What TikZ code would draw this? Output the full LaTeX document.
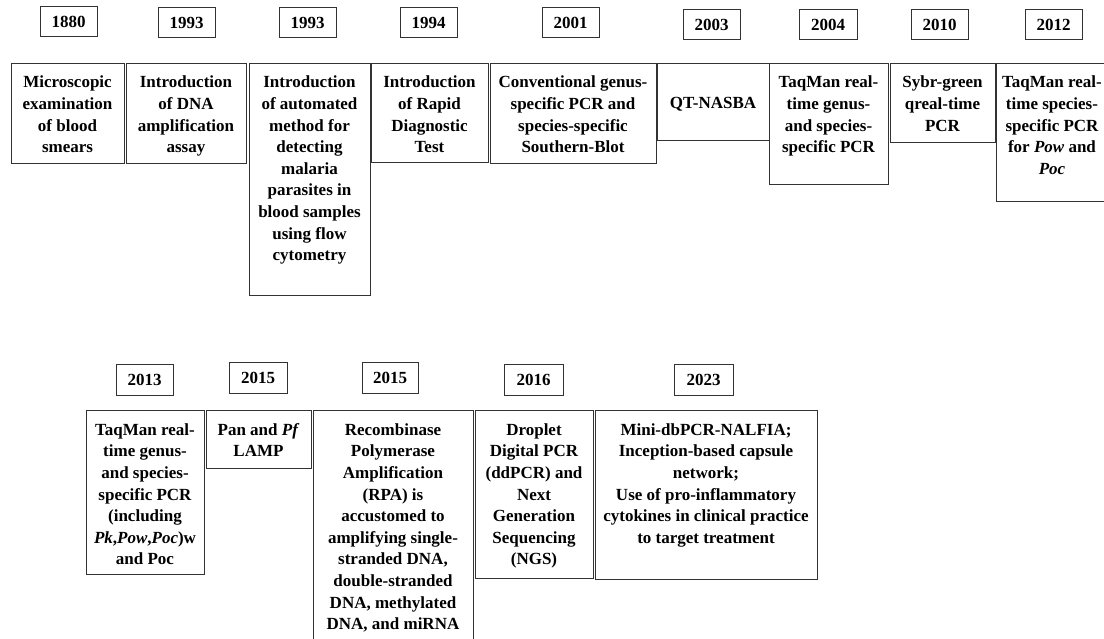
\documentclass[tikz,border=0pt]{standalone}
\usepackage{fontspec}
\setmainfont{Liberation Serif}
\newcommand\yrbox[6]{\node[yearbox, minimum width=#4-#2, minimum height=#5-#3] (#1) at ({(#2+#4)/2},{(#3+#5)/2}) {#6};}
\begin{document}
\begin{tikzpicture}[x=1pt,y=-1pt,
  frame/.style={draw=black!80, line width=1pt},
  yearbox/.style={draw=black!80, line width=1pt, inner sep=0pt, font=\bfseries\fontsize{17}{21}\selectfont},
  txt/.style={inner sep=0pt, align=center, anchor=north, font=\bfseries\fontsize{17}{21.6}\selectfont}]
\useasboundingbox (0,0) rectangle (1104,639);
% ---- top row years
\yrbox{y1880}{40}{7}{97}{37}{1880}
\yrbox{y1993a}{158}{8}{215}{38}{1993}
\yrbox{y1993b}{279}{8}{336}{38}{1993}
\yrbox{y1994}{400}{8}{457}{38}{1994}
\yrbox{y2001}{542}{8}{599}{38}{2001}
\yrbox{y2003}{683}{10}{740}{40}{2003}
\yrbox{y2004}{799}{10}{857}{40}{2004}
\yrbox{y2010}{911}{10}{968}{40}{2010}
\yrbox{y2012}{1025}{10}{1082}{40}{2012}
% ---- top row boxes
\draw[frame] (11,63.5) rectangle (124,164);
\node[txt] (b1880) at (67.5,72.5) {\strut Microscopic\\examination\\of blood\\smears};
\draw[frame] (126,63.5) rectangle (246,164);
\node[txt] (b1993a) at (186,72.5) {\strut Introduction\\of DNA\\amplification\\assay};
\draw[frame] (249,63.5) rectangle (370,296);
\node[txt] (b1993b) at (309.5,72.5) {\strut Introduction\\of automated\\method for\\detecting\\malaria\\parasites in\\blood samples\\using flow\\cytometry};
\draw[frame] (371,63.5) rectangle (488,163);
\node[txt] (b1994) at (429.5,72.5) {\strut Introduction\\of Rapid\\Diagnostic\\Test};
\draw[frame] (490,63.5) rectangle (656,164);
\node[txt] (b2001) at (573,72.5) {\strut Conventional genus-\\specific PCR and\\species-specific\\Southern-Blot};
\draw[frame] (657,63.5) rectangle (769,141);
\node[txt] (b2003) at (713,93.5) {\strut QT-NASBA};
\draw[frame] (769,63.5) rectangle (888,185);
\node[txt] (b2004) at (828.5,72.5) {\strut TaqMan real-\\time genus-\\and species-\\specific PCR};
\draw[frame] (890,63.5) rectangle (995,143);
\node[txt] (b2010) at (942.5,72.5) {\strut Sybr-green\\qreal-time\\PCR};
\draw[frame] (996,63.5) rectangle (1112,202);
\node[txt] (b2012) at (1052,72.5) {\strut TaqMan real-\\time species-\\specific PCR\\for \textit{Pow} and\\\textit{Poc}};
% ---- bottom row years
\yrbox{y2013}{116}{364}{173}{395}{2013}
\yrbox{y2015a}{229}{362}{287}{393}{2015}
\yrbox{y2015b}{362}{362}{418}{393}{2015}
\yrbox{y2016}{504}{364}{563}{395}{2016}
\yrbox{y2023}{674}{364}{733}{395}{2023}
% ---- bottom row boxes
\draw[frame] (86,410) rectangle (204,574);
\node[txt] (b2013) at (145,420) {\strut TaqMan real-\\time genus-\\and species-\\specific PCR\\(including\\\textit{Pk},\textit{Pow},\textit{Poc})w\\and Poc};
\draw[frame] (206,410) rectangle (311,468);
\node[txt] (b2015a) at (258.5,420) {\strut Pan and \textit{Pf}\\LAMP};
\draw[frame] (313,410) rectangle (473,660);
\node[txt] (b2015b) at (393,420) {\strut Recombinase\\Polymerase\\Amplification\\(RPA) is\\accustomed to\\amplifying single-\\stranded DNA,\\double-stranded\\DNA, methylated\\DNA, and miRNA};
\draw[frame] (475,410) rectangle (593,578);
\node[txt] (b2016) at (534,420) {\strut Droplet\\Digital PCR\\(ddPCR) and\\Next\\Generation\\Sequencing\\(NGS)};
\draw[frame] (595,410) rectangle (817,579);
\node[txt] (b2023) at (706,420) {\strut Mini-dbPCR-NALFIA;\\Inception-based capsule\\network;\\Use of pro-inflammatory\\cytokines in clinical practice\\to target treatment};
\end{tikzpicture}
\end{document}
